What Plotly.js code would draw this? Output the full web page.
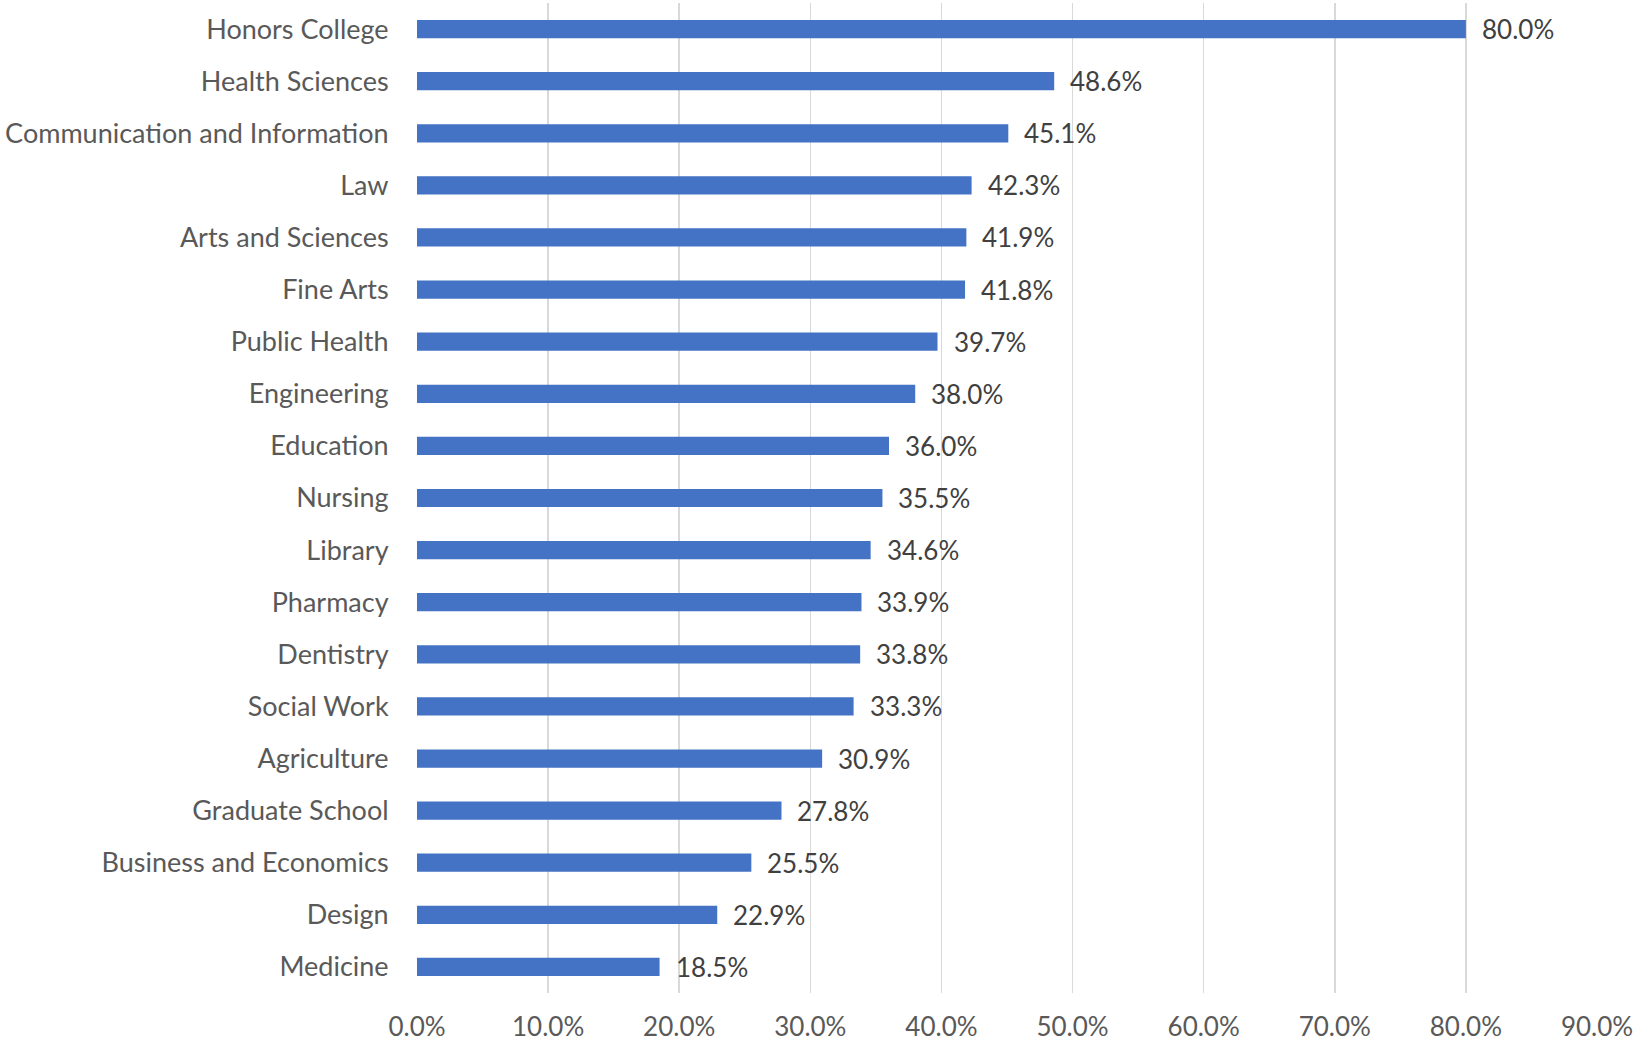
<!DOCTYPE html>
<html>
<head>
<meta charset="utf-8">
<script src="https://cdn.plot.ly/plotly-3.0.1.min.js"></script>
<style>html,body{margin:0;padding:0;background:#fff;}#chart{width:1640px;height:1045px;}</style>
</head>
<body>
<div id="chart"></div>
<script>
const categories = ["Honors College","Health Sciences","Communication and Information","Law","Arts and Sciences","Fine Arts","Public Health","Engineering","Education","Nursing","Library","Pharmacy","Dentistry","Social Work","Agriculture","Graduate School","Business and Economics","Design","Medicine"];
const values = [80.0,48.6,45.1,42.3,41.9,41.8,39.7,38.0,36.0,35.5,34.6,33.9,33.8,33.3,30.9,27.8,25.5,22.9,18.5];
const tickValues = [0,10,20,30,40,50,60,70,80,90];
const tickLabels = tickValues.map(v => v.toFixed(1) + "%");
const valueLabels = values.map(v => v.toFixed(1) + "%");

const FONT = "Lato, Carlito, 'Open Sans', sans-serif";

const trace = {
  type: "bar",
  orientation: "h",
  x: values,
  y: categories,
  marker: {color: "#4472C4"},
  hoverinfo: "none"
};

const annotations = values.map((v, i) => ({
  x: v, y: categories[i], xref: "x", yref: "y",
  text: valueLabels[i], showarrow: false,
  xanchor: "left", yanchor: "middle", xshift: 14,
  font: {family: FONT, size: 26, color: "#404040"}
}));

const layout = {
  width: 1640, height: 1045,
  margin: {l: 417, r: 43, t: 3, b: 52},
  paper_bgcolor: "#fff", plot_bgcolor: "#fff",
  bargap: 0.65,
  showlegend: false,
  xaxis: {
    range: [0, 90],
    tickvals: tickValues, ticktext: tickLabels,
    showgrid: true, gridcolor: "#d9d9d9", gridwidth: 1.5,
    zeroline: false, showline: false,
    ticks: "outside", ticklen: 11, tickcolor: "rgba(0,0,0,0)",
    tickfont: {family: FONT, size: 26, color: "#595959"},
    fixedrange: true
  },
  yaxis: {
    autorange: "reversed",
    showgrid: false, zeroline: false, showline: false,
    ticks: "outside", ticklen: 22, tickcolor: "rgba(0,0,0,0)",
    tickfont: {family: FONT, size: 27, color: "#595959"},
    fixedrange: true
  },
  annotations: annotations,
  font: {family: FONT}
};

Plotly.newPlot("chart", [trace], layout, {displayModeBar: false, staticPlot: true});
</script>
</body>
</html>
